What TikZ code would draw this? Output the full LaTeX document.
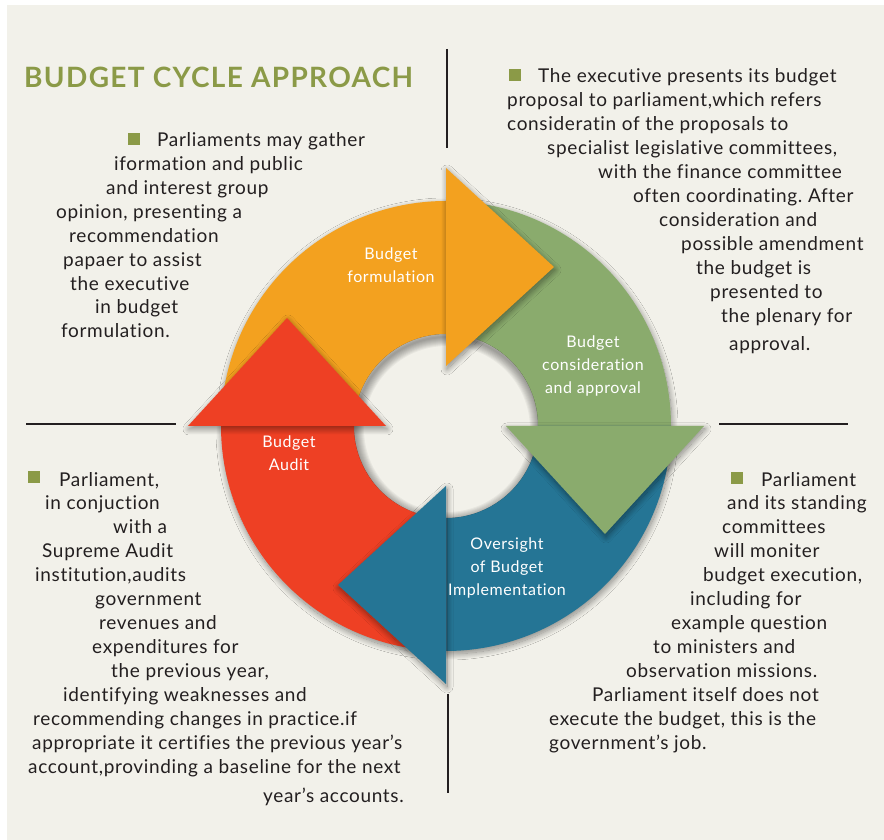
\documentclass[tikz,border=0pt]{standalone}
\usepackage{fontspec}
\setmainfont{Lato}[LetterSpace=3.5, Ligatures=CommonOff]
\usetikzlibrary{shadows.blur}
\frenchspacing

\definecolor{paper}{HTML}{F2F1EA}
\definecolor{olivehead}{HTML}{8B9A47}
\definecolor{formcol}{HTML}{F3A11F}
\definecolor{apprcol}{HTML}{8AAB6D}
\definecolor{implcol}{HTML}{257595}
\definecolor{auditcol}{HTML}{EE4024}
\definecolor{ink}{HTML}{231F20}

\tikzset{
  bodytext/.style={anchor=base west, inner sep=0pt, text=ink, font=\fontsize{19}{22}\selectfont},
  steplabel/.style={text=white, align=center, font=\fontsize{16}{23}\selectfont},
  bullet/.style={fill=olivehead, minimum size=12pt, inner sep=0pt},
  sepline/.style={line width=2.5pt, ink},
  softshadow/.style={blur shadow={shadow xshift=1pt, shadow yshift=-3pt, shadow blur radius=6pt, shadow blur steps=24, shadow opacity=45}}
}

\begin{document}
\begin{tikzpicture}[x=1pt,y=1pt]
    \useasboundingbox (0,0) rectangle (884,840);
    \fill[paper] (7,0) rectangle (884,835);
    \coordinate (C) at (446,414);

    % shadow of the ring, hole cut out again
    \path[softshadow] (C) circle[radius=225];
    \fill[paper] (C) circle[radius=92];

    % the four quarter bands of the cycle
    \foreach \col/\rot in {formcol/0, apprcol/-90, implcol/-180, auditcol/-270}
        \fill[\col, shift={(C)}, rotate=\rot] (180:225) arc[start angle=180, end angle=89, radius=225]
            -- (89:92) arc[start angle=89, end angle=180, radius=92] -- cycle;

    % soft shade inside the hole
    \begin{scope}
        \clip (C) circle[radius=92];
        \foreach \w in {2,4,...,18}
            \draw[black, opacity=0.045, line width=\w] ([shift={(1,-3)}]C) circle[radius=92];
    \end{scope}

    % arrow heads on top
    \foreach \col/\rot in {formcol/0, apprcol/-90, implcol/-180, auditcol/-270}
        \fill[\col, softshadow, shift={(C)}, rotate=\rot] (90:258) -- (108,159) -- (90:60) -- cycle;

    \node[steplabel] (formulation) at (391,574.5) {Budget\\formulation};
    \node[steplabel] (approval) at (593,474) {Budget\\consideration\\and approval};
    \node[steplabel] (audit) at (289,386.5) {Budget\\Audit};
    \node[steplabel] (oversight) at (507,272.5) {Oversight\\of Budget\\Implementation};

    % separators
    \draw[sepline] (447,791) -- (447,692);
    \draw[sepline] (26,416) -- (176,416);
    \draw[sepline] (719,416) -- (848,416);
    \draw[sepline] (448,146) -- (448,47);

    \node[anchor=base west, inner sep=0pt, text=olivehead, font=\fontsize{28}{30}\selectfont\bfseries\addfontfeatures{LetterSpace=4.8}] (title) at (24,752) {BUDGET CYCLE APPROACH};

    \node[bullet] (b-gather) at (133.5,700.5) {};
    \node[bullet] (b-exec) at (514.5,765) {};
    \node[bullet] (b-audit) at (34,362.5) {};
    \node[bullet] (b-monitor) at (737,361.5) {};

    % upper left
    \foreach \x/\y/\t [count=\i] in {157/693/Parliaments may gather, 114/669/iformation and public,
        106/645/and interest group, 56/621/{opinion, presenting a}, 69/597/recommendation,
        63/573/papaer to assist, 70/549/the executive, 95/526/in budget, 61/502/formulation.}
        \node[bodytext] (gather-\i) at (\x,\y) {\t};

    % upper right
    \foreach \x/\y/\t [count=\i] in {538/757/The executive presents its budget,
        507/733/{proposal to parliament,which refers}, 507/709/consideratin of the proposals to,
        547/685/{specialist legislative committees,}, 598/661/with the finance committee,
        633/637/often coordinating. After, 659/613/consideration and, 681/589/possible amendment,
        696/565/the budget is, 710/541/presented to, 721/517/the plenary for, 729/489/approval.}
        \node[bodytext] (exec-\i) at (\x,\y) {\t};

    % lower left
    \foreach \x/\y/\t [count=\i] in {59/353/{Parliament,}, 45/330/in conjuction, 113/306/with a,
        42/282/Supreme Audit, 35/258/{institution,audits}, 95/234/government, 99/210/revenues and,
        92/186/expenditures for, 111/162/{the previous year,}, 63/138/identifying weaknesses and,
        33/114/recommending changes in practice.if, 32/90/appropriate it certifies the previous year's,
        28/66/{account,provinding a baseline for the next}, 263/37/year's accounts.}
        \node[bodytext] (audit-\i) at (\x,\y) {\t};

    % lower right
    \foreach \x/\y/\t [count=\i] in {761/353/Parliament, 727/330/and its standing, 722/306/committees,
        714/282/will moniter, 703/258/{budget execution,}, 690/234/including for,
        671/210/example question, 653/186/to ministers and, 626/162/observation missions.,
        592/138/Parliament itself does not, 549/114/{execute the budget, this is the},
        549/90/government's job.}
        \node[bodytext] (monitor-\i) at (\x,\y) {\t};
\end{tikzpicture}
\end{document}
